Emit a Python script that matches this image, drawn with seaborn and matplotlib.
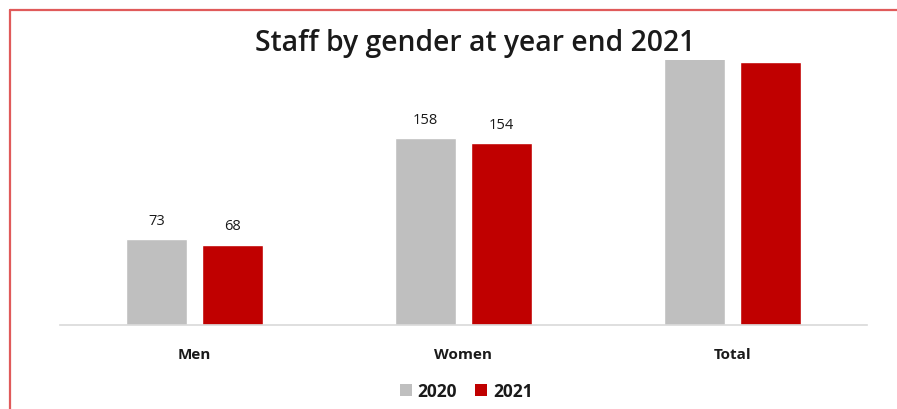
import matplotlib
matplotlib.use("Agg")
import matplotlib.pyplot as plt
import seaborn as sns
import pandas as pd
from matplotlib.patches import Patch

categories = ["Men", "Women", "Total"]
years = ["2020", "2021"]
staff_2020 = [73, 158, 231]
staff_2021 = [68, 154, 222]

colors = {"2020": "#bfbfbf", "2021": "#c00000"}

df = pd.DataFrame({
    "category": categories * 2,
    "year": [years[0]] * 3 + [years[1]] * 3,
    "staff": staff_2020 + staff_2021,
})

sns.set_theme(style="white")
plt.rcParams["font.family"] = ["Open Sans", "DejaVu Sans"]

W, H = 897, 410
fig = plt.figure(figsize=(W / 100, H / 100), dpi=100)
ax = fig.add_axes([60 / W, (H - 326) / H, 807 / W, 265 / H])

sns.barplot(data=df, x="category", y="staff", hue="year", order=categories,
            hue_order=years, palette=colors, width=0.565, gap=0.21,
            ax=ax, legend=False, saturation=1)

ymax = 224
ax.set_ylim(0, ymax)
ax.set_xlim(-0.5, 2.5)

# value labels only where there is room for them inside the plot area
for container in ax.containers:
    labels = [f"{v:.0f}" if v <= ymax - 25 else "" for v in container.datavalues]
    ax.bar_label(container, labels=labels, padding=8, fontsize=10.5,
                 color="#1a1a1a")

for spine in ["top", "right", "left"]:
    ax.spines[spine].set_visible(False)
ax.spines["bottom"].set_color("#d9d9d9")
ax.spines["bottom"].set_linewidth(1.2)
ax.set_yticks([])
ax.set_xlabel("")
ax.set_ylabel("")
ax.tick_params(axis="x", length=0, pad=16)
for lbl in ax.get_xticklabels():
    lbl.set_fontweight("bold")
    lbl.set_fontsize(11)
    lbl.set_color("#1a1a1a")

fig.text(475 / W, 1 - 44 / H, "Staff by gender at year end 2021",
         ha="center", va="center", fontsize=20.3, fontweight="semibold",
         color="#1a1a1a")

handles = [Patch(facecolor=colors[y], edgecolor="none", label=y) for y in years]
leg = fig.legend(handles=handles, loc="center", bbox_to_anchor=(466 / W, 1 - 392 / H),
                 ncol=2, frameon=False, handlelength=0.7, handleheight=0.7,
                 handletextpad=0.35, columnspacing=1.0,
                 prop={"weight": "bold", "size": 12.5})
for t in leg.get_texts():
    t.set_color("#1a1a1a")

# red frame along the top and left edges
border = "#e05a5a"
fig.add_artist(plt.Line2D([9.5 / W, 1], [1 - 10.5 / H, 1 - 10.5 / H],
                          transform=fig.transFigure, color=border, lw=1.6))
fig.add_artist(plt.Line2D([9.5 / W, 9.5 / W], [0, 1 - 10.5 / H],
                          transform=fig.transFigure, color=border, lw=1.6))

fig.savefig("out.png", dpi=100)
